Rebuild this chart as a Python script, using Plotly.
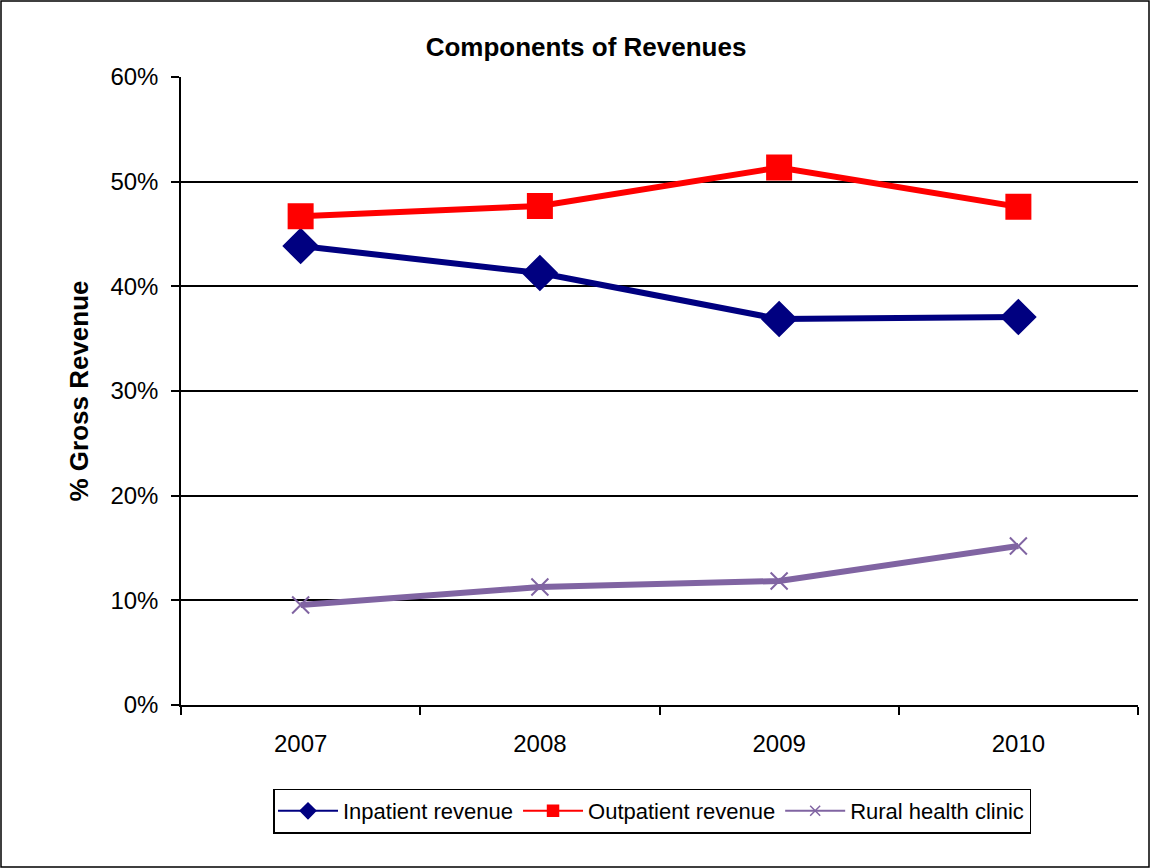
import plotly.graph_objects as go

years = ["2007", "2008", "2009", "2010"]
inpatient = [0.4385, 0.4127, 0.3688, 0.3707]
outpatient = [0.4670, 0.4768, 0.5135, 0.4760]
rural = [0.0955, 0.1127, 0.1185, 0.1519]

W, H = 1151, 868
ML, MR, MT, MB = 181, 13, 77, 163
PW, PH = W - ML - MR, H - MT - MB

series = [
    ("Inpatient revenue", inpatient, "#000080", "diamond", 26, 12),
    ("Outpatient revenue", outpatient, "#FF0000", "square", 24, 11),
    ("Rural health clinic", rural, "#8064A2", "x-thin", 17, 10),
]

fig = go.Figure()
for name, vals, color, symbol, msize, lsize in series:
    # plotted series
    fig.add_trace(go.Scatter(
        x=years, y=vals, name=name, mode="lines+markers", legendgroup=name,
        showlegend=False,
        line=dict(color=color, width=6),
        marker=dict(symbol=symbol, size=msize, color=color,
                    line=dict(color=color, width=2)),
    ))
    # legend key with thin line and small marker
    fig.add_trace(go.Scatter(
        x=[None], y=[None], name=name, mode="lines+markers", legendgroup=name,
        line=dict(color=color, width=2),
        marker=dict(symbol=symbol, size=lsize, color=color,
                    line=dict(color=color, width=1.5)),
    ))

font = "Liberation Sans, Arial, sans-serif"

# outer chart frame
fig.add_shape(
    type="rect", xref="paper", yref="paper", layer="above",
    x0=(1 - ML) / PW, x1=(W - 2 - ML) / PW,
    y0=-(MB - 1) / PH, y1=1 + (MT - 1) / PH,
    line=dict(color="black", width=1.5), fillcolor="rgba(0,0,0,0)",
)

fig.update_layout(
    width=W, height=H,
    margin=dict(l=ML, r=MR, t=MT, b=MB),
    paper_bgcolor="white", plot_bgcolor="white",
    font=dict(family=font, color="black"),
    title=dict(text="<b>Components of Revenues</b>", x=(586 - ML) / PW,
               xref="paper", xanchor="center", y=1 - 47 / H, yanchor="middle",
               font=dict(size=26)),
    showlegend=True,
    legend=dict(
        orientation="h", x=(652 - ML) / PW, xanchor="center",
        y=-(811 - 705) / PH, yanchor="middle",
        bordercolor="black", borderwidth=1.5, bgcolor="white",
        font=dict(size=22), itemwidth=60,
    ),
    xaxis=dict(
        type="category", range=[-0.5, 3.5], tickson="boundaries",
        ticks="outside", ticklen=8, tickwidth=1.5, tickcolor="black",
        showline=True, linecolor="black", linewidth=1.5,
        showgrid=False, tickfont=dict(size=24), zeroline=False,
        ticklabelstandoff=16,
    ),
    yaxis=dict(
        range=[0, 0.6], dtick=0.1, tickformat=".0%",
        ticks="outside", ticklen=8, tickwidth=1.5, tickcolor="black",
        showline=True, linecolor="black", linewidth=1.5,
        showgrid=True, gridcolor="black", gridwidth=1.5, zeroline=False,
        tickfont=dict(size=24), ticklabelstandoff=8,
        title=dict(text="<b>% Gross Revenue</b>", font=dict(size=26), standoff=14),
    ),
)

fig.write_html("out.html")
